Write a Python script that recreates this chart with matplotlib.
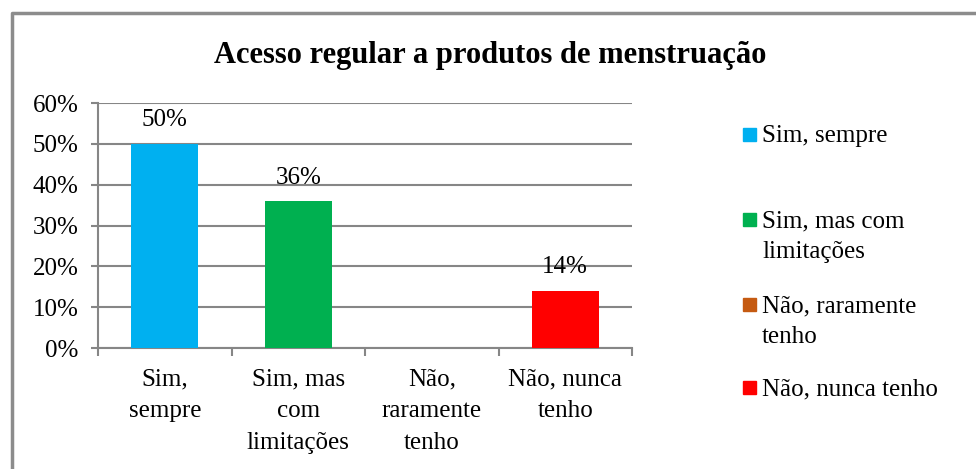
import matplotlib

matplotlib.use("Agg")
import matplotlib.pyplot as plt
from matplotlib.patches import Rectangle
from matplotlib.lines import Line2D

# data
categories = ["Sim,\nsempre", "Sim, mas\ncom\nlimitações", "Não,\nraramente\ntenho", "Não, nunca\ntenho"]
legend_labels = ["Sim, sempre", "Sim, mas com\nlimitações", "Não, raramente\ntenho", "Não, nunca tenho"]
values = [50, 36, 0, 14]
bar_labels = ["50%", "36%", None, "14%"]
colors = ["#00B0F0", "#00B050", "#C55A11", "#FF0000"]
yticks = [0, 10, 20, 30, 40, 50, 60]

plt.rcParams["font.family"] = ["Liberation Serif", "DejaVu Serif"]
GRID = "#868686"
FS = 18

fig = plt.figure(figsize=(9.76, 4.69), dpi=100)
ax = fig.add_axes([98 / 976, 1 - 348 / 469, (632 - 98) / 976, (348 - 103) / 469])

x = list(range(len(values)))
bars = ax.bar(x, values, width=0.5, color=colors, zorder=3)
for b, lab in zip(bars, bar_labels):
    if lab:
        ax.annotate(lab, (b.get_x() + b.get_width() / 2, b.get_height()),
                    xytext=(0, 9), textcoords="offset points",
                    ha="center", va="bottom", fontsize=FS)

ax.set_xlim(-0.5, len(values) - 0.5)
ax.set_ylim(0, 60)
ax.set_yticks(yticks)
ax.set_yticklabels([f"{v}%" for v in yticks], fontsize=FS)
ax.yaxis.grid(True, color=GRID, linewidth=1.5, zorder=0)
ax.tick_params(axis="y", length=5, width=1.5, color=GRID, pad=9)

# category ticks at boundaries, labels at centres
ax.set_xticks([i - 0.5 for i in range(len(values) + 1)])
ax.set_xticklabels([])
ax.tick_params(axis="x", length=6, width=1.5, color=GRID)
for i, c in enumerate(categories):
    ax.text(i, -0.085, c, transform=ax.get_xaxis_transform(), ha="center", va="top",
            fontsize=FS, linespacing=1.55)

for s in ["top", "right"]:
    ax.spines[s].set_visible(False)
for s in ["left", "bottom"]:
    ax.spines[s].set_color(GRID)
    ax.spines[s].set_linewidth(1.5)

fig.text(490 / 976, 1 - 55 / 469, "Acesso regular a produtos de menstruação",
         ha="center", va="center", fontsize=22, fontweight="bold")

# legend, placed by hand like the original (y = centre of first line)
legend_y = [135, 220, 305, 388]
for lab, col, yy in zip(legend_labels, colors, legend_y):
    fy = 1 - yy / 469
    fig.patches.append(Rectangle((743 / 976, fy - 6 / 469), 13 / 976, 13 / 469,
                                 transform=fig.transFigure, color=col))
    fig.text(762 / 976, fy + 10 / 469, lab, ha="left", va="top", fontsize=FS, linespacing=1.55)

# outer border of the chart area
fig.lines.append(Line2D([12 / 976, 12 / 976, 1], [0, 1 - 13 / 469, 1 - 13 / 469],
                        transform=fig.transFigure, color="#8C8C8C", linewidth=2.5))

fig.savefig("out.png", dpi=100)
